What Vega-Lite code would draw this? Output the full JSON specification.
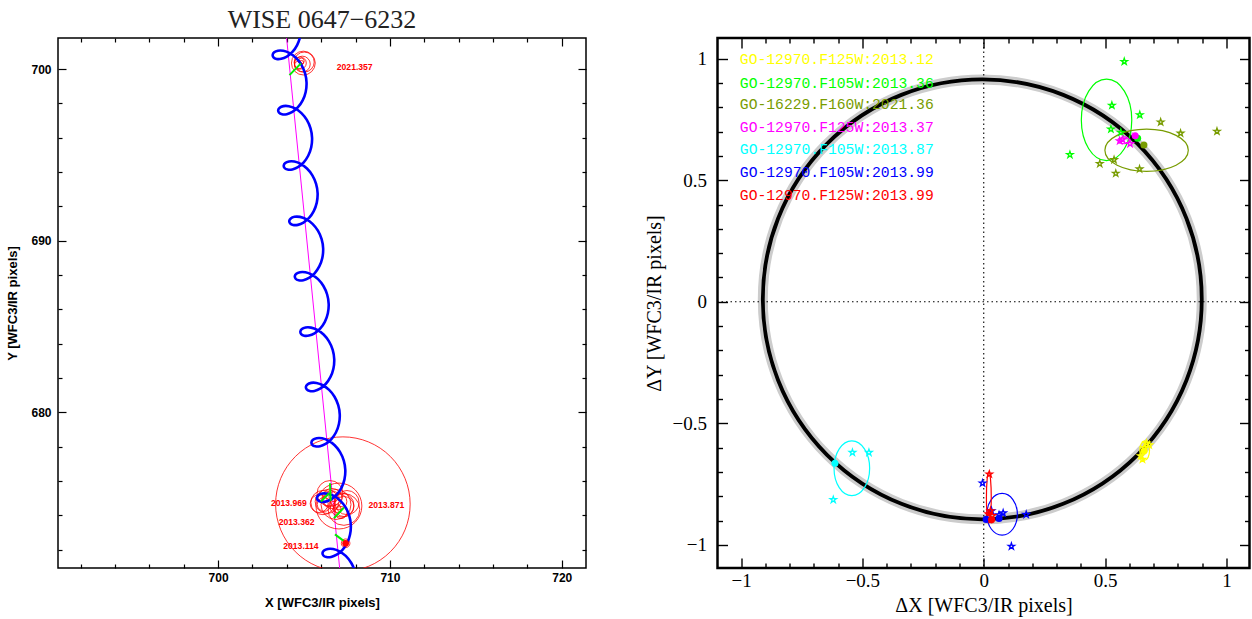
{
  "$schema": "https://vega.github.io/schema/vega-lite/v6.json",
  "background": "white",
  "padding": {"left": 6, "top": 6, "right": 0, "bottom": 0},
  "bounds": "flush",
  "spacing": 131.5,
  "resolve": {"scale": {"size": "independent", "color": "independent", "shape": "independent"}},
  "config": {
    "view": {"stroke": "black"},
    "axis": {"grid": false, "domain": false, "ticks": true, "labelOverlap": false, "labelFlush": false, "tickColor": "black", "tickOpacity": 1, "zindex": 1}
  },
  "hconcat": [
    {
      "width": 528,
      "height": 530,
      "view": {"stroke": "black", "strokeWidth": 1.5},
      "title": {"text": "WISE 0647−6232", "font": "Liberation Serif", "fontSize": 26, "fontWeight": "normal", "color": "#222222", "frame": "group", "anchor": "middle", "baseline": "alphabetic", "offset": -17},
      "resolve": {"axis": {"x": "independent", "y": "independent"}},
      "layer": [
        {
          "data": {"values": [{"x": 707.266, "y": 669}, {"x": 703.866, "y": 703}]},
          "mark": {"type": "line", "color": "#ff00ff", "strokeWidth": 1, "clip": true},
          "encoding": {
            "x": {"field": "x", "type": "quantitative", "scale": {"domain": [690.68, 721.41], "nice": false, "zero": false},
              "axis": {"orient": "top", "values": [700, 710, 720], "labels": false, "title": null, "tickWidth": 1.2, "tickSize": 8, "offset": -8}},
            "y": {"field": "y", "type": "quantitative", "scale": {"domain": [670.94, 701.81], "nice": false, "zero": false},
              "axis": {"orient": "right", "values": [680, 690, 700], "labels": false, "title": null, "tickWidth": 1.2, "tickSize": 8, "offset": -8}}
          }
        },
        {
          "data": {"values": [
            {"x": 707.26, "y": 674.66, "r": 3.9},
            {"x": 707.03, "y": 674.55, "r": 1.33},
            {"x": 706.34, "y": 674.81, "r": 0.69},
            {"x": 706.63, "y": 674.99, "r": 0.58},
            {"x": 706.86, "y": 674.64, "r": 0.87},
            {"x": 707.03, "y": 674.81, "r": 0.46},
            {"x": 707.32, "y": 674.52, "r": 0.58},
            {"x": 706.17, "y": 674.64, "r": 0.4},
            {"x": 707.15, "y": 674.17, "r": 0.35},
            {"x": 706.74, "y": 675.1, "r": 0.29},
            {"x": 706.51, "y": 675.28, "r": 0.75},
            {"x": 707.32, "y": 674.35, "r": 0.92},
            {"x": 705.88, "y": 674.69, "r": 0.52},
            {"x": 706.92, "y": 674.4, "r": 0.23},
            {"x": 706.45, "y": 674.9, "r": 0.35},
            {"x": 707.5, "y": 674.75, "r": 0.7},
            {"x": 706.1, "y": 674.75, "r": 0.7},
            {"x": 707.2, "y": 674.6, "r": 0.7},
            {"x": 707.42, "y": 672.38, "r": 0.25},
            {"x": 704.96, "y": 700.35, "r": 0.69},
            {"x": 704.9, "y": 700.29, "r": 0.46},
            {"x": 704.78, "y": 700.35, "r": 0.35},
            {"x": 704.67, "y": 700.23, "r": 0.23},
            {"x": 704.84, "y": 700.47, "r": 0.17},
            {"x": 705.01, "y": 700.41, "r": 0.58},
            {"x": 704.85, "y": 700.38, "r": 0.12}
          ]},
          "mark": {"type": "point", "shape": "circle", "filled": false, "color": "#ff0000", "strokeWidth": 0.8, "opacity": 1, "clip": true},
          "encoding": {
            "x": {"field": "x", "type": "quantitative",
              "axis": {"orient": "top", "values": [692,694,696,698,702,704,706,708,712,714,716,718], "labels": false, "title": null, "tickWidth": 1.2, "tickSize": 4, "offset": -4}},
            "y": {"field": "y", "type": "quantitative",
              "axis": {"orient": "right", "values": [672,674,676,678,682,684,686,688,692,694,696,698], "labels": false, "title": null, "tickWidth": 1.2, "tickSize": 4, "offset": -4}},
            "size": {"field": "r", "type": "quantitative", "scale": {"type": "pow", "exponent": 2, "domain": [0, 1], "range": [0, 1190]}, "legend": null}
          }
        },
        {
          "data": {"values": [
            {"i":0,"x":708.046,"y":670.202},{"i":1,"x":707.957,"y":670.750},{"i":2,"x":707.741,"y":671.245},{"i":3,"x":707.427,"y":671.643},
            {"i":4,"x":707.061,"y":671.913},{"i":5,"x":706.694,"y":672.046},{"i":6,"x":706.381,"y":672.051},{"i":7,"x":706.164,"y":671.959},
            {"i":8,"x":706.075,"y":671.814},{"i":9,"x":706.124,"y":671.669},{"i":10,"x":706.300,"y":671.577},{"i":11,"x":706.573,"y":671.582},
            {"i":12,"x":706.900,"y":671.715},{"i":13,"x":707.226,"y":671.985},{"i":14,"x":707.499,"y":672.383},{"i":15,"x":707.675,"y":672.878},
            {"i":16,"x":707.724,"y":673.426},{"i":17,"x":707.635,"y":673.974},{"i":18,"x":707.419,"y":674.469},{"i":19,"x":707.105,"y":674.867},
            {"i":20,"x":706.738,"y":675.137},{"i":21,"x":706.372,"y":675.270},{"i":22,"x":706.058,"y":675.275},{"i":23,"x":705.842,"y":675.183},
            {"i":24,"x":705.753,"y":675.038},{"i":25,"x":705.802,"y":674.893},{"i":26,"x":705.978,"y":674.801},{"i":27,"x":706.251,"y":674.806},
            {"i":28,"x":706.577,"y":674.939},{"i":29,"x":706.903,"y":675.209},{"i":30,"x":707.177,"y":675.607},{"i":31,"x":707.353,"y":676.102},
            {"i":32,"x":707.402,"y":676.650},{"i":33,"x":707.313,"y":677.198},{"i":34,"x":707.096,"y":677.693},{"i":35,"x":706.782,"y":678.091},
            {"i":36,"x":706.416,"y":678.361},{"i":37,"x":706.050,"y":678.494},{"i":38,"x":705.736,"y":678.499},{"i":39,"x":705.519,"y":678.407},
            {"i":40,"x":705.430,"y":678.262},{"i":41,"x":705.479,"y":678.117},{"i":42,"x":705.655,"y":678.025},{"i":43,"x":705.929,"y":678.030},
            {"i":44,"x":706.255,"y":678.163},{"i":45,"x":706.581,"y":678.433},{"i":46,"x":706.854,"y":678.831},{"i":47,"x":707.030,"y":679.326},
            {"i":48,"x":707.079,"y":679.874},{"i":49,"x":706.990,"y":680.422},{"i":50,"x":706.774,"y":680.917},{"i":51,"x":706.460,"y":681.315},
            {"i":52,"x":706.094,"y":681.585},{"i":53,"x":705.727,"y":681.718},{"i":54,"x":705.413,"y":681.723},{"i":55,"x":705.197,"y":681.631},
            {"i":56,"x":705.108,"y":681.486},{"i":57,"x":705.157,"y":681.341},{"i":58,"x":705.333,"y":681.249},{"i":59,"x":705.606,"y":681.254},
            {"i":60,"x":705.932,"y":681.387},{"i":61,"x":706.259,"y":681.657},{"i":62,"x":706.532,"y":682.055},{"i":63,"x":706.708,"y":682.550},
            {"i":64,"x":706.757,"y":683.098},{"i":65,"x":706.668,"y":683.646},{"i":66,"x":706.451,"y":684.141},{"i":67,"x":706.138,"y":684.539},
            {"i":68,"x":705.771,"y":684.809},{"i":69,"x":705.405,"y":684.942},{"i":70,"x":705.091,"y":684.947},{"i":71,"x":704.875,"y":684.855},
            {"i":72,"x":704.786,"y":684.710},{"i":73,"x":704.834,"y":684.565},{"i":74,"x":705.010,"y":684.473},{"i":75,"x":705.284,"y":684.478},
            {"i":76,"x":705.610,"y":684.611},{"i":77,"x":705.936,"y":684.881},{"i":78,"x":706.210,"y":685.279},{"i":79,"x":706.386,"y":685.774},
            {"i":80,"x":706.434,"y":686.322},{"i":81,"x":706.345,"y":686.870},{"i":82,"x":706.129,"y":687.365},{"i":83,"x":705.815,"y":687.763},
            {"i":84,"x":705.449,"y":688.033},{"i":85,"x":705.082,"y":688.166},{"i":86,"x":704.769,"y":688.171},{"i":87,"x":704.552,"y":688.079},
            {"i":88,"x":704.463,"y":687.934},{"i":89,"x":704.512,"y":687.789},{"i":90,"x":704.688,"y":687.697},{"i":91,"x":704.961,"y":687.702},
            {"i":92,"x":705.288,"y":687.835},{"i":93,"x":705.614,"y":688.105},{"i":94,"x":705.887,"y":688.503},{"i":95,"x":706.063,"y":688.998},
            {"i":96,"x":706.112,"y":689.546},{"i":97,"x":706.023,"y":690.094},{"i":98,"x":705.807,"y":690.589},{"i":99,"x":705.493,"y":690.987},
            {"i":100,"x":705.126,"y":691.257},{"i":101,"x":704.760,"y":691.390},{"i":102,"x":704.446,"y":691.395},{"i":103,"x":704.230,"y":691.303},
            {"i":104,"x":704.141,"y":691.158},{"i":105,"x":704.190,"y":691.013},{"i":106,"x":704.366,"y":690.921},{"i":107,"x":704.639,"y":690.926},
            {"i":108,"x":704.965,"y":691.059},{"i":109,"x":705.291,"y":691.329},{"i":110,"x":705.565,"y":691.727},{"i":111,"x":705.741,"y":692.222},
            {"i":112,"x":705.790,"y":692.770},{"i":113,"x":705.701,"y":693.318},{"i":114,"x":705.484,"y":693.813},{"i":115,"x":705.170,"y":694.211},
            {"i":116,"x":704.804,"y":694.481},{"i":117,"x":704.438,"y":694.614},{"i":118,"x":704.124,"y":694.619},{"i":119,"x":703.907,"y":694.527},
            {"i":120,"x":703.818,"y":694.382},{"i":121,"x":703.867,"y":694.237},{"i":122,"x":704.043,"y":694.145},{"i":123,"x":704.317,"y":694.150},
            {"i":124,"x":704.643,"y":694.283},{"i":125,"x":704.969,"y":694.553},{"i":126,"x":705.242,"y":694.951},{"i":127,"x":705.418,"y":695.446},
            {"i":128,"x":705.467,"y":695.994},{"i":129,"x":705.378,"y":696.542},{"i":130,"x":705.162,"y":697.037},{"i":131,"x":704.848,"y":697.435},
            {"i":132,"x":704.482,"y":697.705},{"i":133,"x":704.115,"y":697.838},{"i":134,"x":703.801,"y":697.843},{"i":135,"x":703.585,"y":697.751},
            {"i":136,"x":703.496,"y":697.606},{"i":137,"x":703.545,"y":697.461},{"i":138,"x":703.721,"y":697.369},{"i":139,"x":703.994,"y":697.374},
            {"i":140,"x":704.320,"y":697.507},{"i":141,"x":704.646,"y":697.777},{"i":142,"x":704.920,"y":698.175},{"i":143,"x":705.096,"y":698.670},
            {"i":144,"x":705.145,"y":699.218},{"i":145,"x":705.056,"y":699.766},{"i":146,"x":704.839,"y":700.261},{"i":147,"x":704.526,"y":700.659},
            {"i":148,"x":704.159,"y":700.929},{"i":149,"x":703.793,"y":701.062},{"i":150,"x":703.479,"y":701.067},{"i":151,"x":703.263,"y":700.975},
            {"i":152,"x":703.174,"y":700.830},{"i":153,"x":703.222,"y":700.685},{"i":154,"x":703.398,"y":700.593},{"i":155,"x":703.672,"y":700.598},
            {"i":156,"x":703.998,"y":700.731},{"i":157,"x":704.324,"y":701.001},{"i":158,"x":704.598,"y":701.399},{"i":159,"x":704.774,"y":701.894},
            {"i":160,"x":704.822,"y":702.442},{"i":161,"x":704.733,"y":702.990}
          ]},
          "mark": {"type": "line", "color": "#0000ff", "strokeWidth": 2.6, "interpolate": "catmull-rom", "clip": true},
          "encoding": {
            "order": {"field": "i", "type": "quantitative"},
            "x": {"field": "x", "type": "quantitative",
              "axis": {"orient": "bottom", "values": [700, 710, 720], "format": "d", "tickWidth": 1.2, "tickSize": 8, "offset": -8, "labelFont": "Liberation Sans", "labelFontWeight": "bold", "labelFontSize": 12, "labelColor": "black", "labelPadding": 4, "title": "X [WFC3/IR pixels]", "titleFont": "Liberation Sans", "titleFontWeight": "bold", "titleFontSize": 13, "titleColor": "black", "titlePadding": 13}},
            "y": {"field": "y", "type": "quantitative",
              "axis": {"orient": "left", "values": [680, 690, 700], "format": "d", "tickWidth": 1.2, "tickSize": 8, "offset": -8, "labelFont": "Liberation Sans", "labelFontWeight": "bold", "labelFontSize": 12, "labelColor": "black", "labelPadding": 7, "title": "Y [WFC3/IR pixels]", "titleFont": "Liberation Sans", "titleFontWeight": "bold", "titleFontSize": 13, "titleColor": "black", "titlePadding": 11}}
          }
        },
        {
          "data": {"values": [
            {"x": 706.80, "y": 672.90, "x2": 707.42, "y2": 672.43},
            {"x": 706.74, "y": 673.84, "x2": 707.32, "y2": 674.46},
            {"x": 706.51, "y": 675.88, "x2": 706.55, "y2": 674.85},
            {"x": 705.98, "y": 674.81, "x2": 706.46, "y2": 675.29},
            {"x": 704.15, "y": 699.65, "x2": 704.82, "y2": 700.33}
          ]},
          "mark": {"type": "rule", "color": "#00ee00", "strokeWidth": 2},
          "encoding": {
            "x": {"field": "x", "type": "quantitative",
              "axis": {"orient": "bottom", "values": [692,694,696,698,702,704,706,708,712,714,716,718], "labels": false, "title": null, "tickWidth": 1.2, "tickSize": 4, "offset": -4}},
            "y": {"field": "y", "type": "quantitative",
              "axis": {"orient": "left", "values": [672,674,676,678,682,684,686,688,692,694,696,698], "labels": false, "title": null, "tickWidth": 1.2, "tickSize": 4, "offset": -4}},
            "x2": {"field": "x2"},
            "y2": {"field": "y2"}
          }
        },
        {
          "data": {"values": [{"x": 707.42, "y": 672.38}]},
          "mark": {"type": "point", "shape": "circle", "filled": true, "color": "#ff0000", "size": 45, "opacity": 1},
          "encoding": {
            "x": {"field": "x", "type": "quantitative", "axis": null},
            "y": {"field": "y", "type": "quantitative", "axis": null}
          }
        },
        {
          "data": {"values": [
            {"x": 707.95, "y": 700.12, "label": "2021.357"},
            {"x": 704.12, "y": 674.75, "label": "2013.969"},
            {"x": 709.79, "y": 674.61, "label": "2013.871"},
            {"x": 704.57, "y": 673.64, "label": "2013.362"},
            {"x": 704.82, "y": 672.23, "label": "2013.114"}
          ]},
          "mark": {"type": "text", "font": "Liberation Sans", "fontWeight": "bold", "fontSize": 8.6, "color": "#ff0000", "align": "center", "baseline": "middle"},
          "encoding": {
            "x": {"field": "x", "type": "quantitative", "axis": null},
            "y": {"field": "y", "type": "quantitative", "axis": null},
            "text": {"field": "label"}
          }
        }
      ]
    },
    {
      "width": 532,
      "height": 530,
      "view": {"stroke": "black", "strokeWidth": 2.5},
      "resolve": {"axis": {"x": "independent", "y": "independent"}},
      "layer": [
        {
          "data": {"values": [{"x": -0.006, "y": 0.01, "a": 0.905}]},
          "mark": {"type": "point", "shape": "circle", "filled": false, "color": "#cccccc", "strokeWidth": 10, "opacity": 1},
          "encoding": {
            "x": {"field": "x", "type": "quantitative", "scale": {"domain": [-1.097, 1.095], "nice": false, "zero": false},
              "axis": {"orient": "bottom", "values": [-1, -0.5, 0, 0.5, 1], "format": "~g", "tickWidth": 1.4, "tickSize": 10, "offset": -10, "labelFont": "Liberation Serif", "labelFontSize": 19, "labelColor": "black", "labelPadding": 3, "title": "ΔX [WFC3/IR pixels]", "titleFont": "Liberation Serif", "titleFontSize": 20, "titleFontWeight": "normal", "titleColor": "black", "titlePadding": 5}},
            "y": {"field": "y", "type": "quantitative", "scale": {"domain": [-1.095, 1.085], "nice": false, "zero": false},
              "axis": {"orient": "left", "values": [-1, -0.5, 0, 0.5, 1], "format": "~g", "tickWidth": 1.4, "tickSize": 10, "offset": -10, "labelFont": "Liberation Serif", "labelFontSize": 19, "labelColor": "black", "labelPadding": 11, "title": "ΔY [WFC3/IR pixels]", "titleFont": "Liberation Serif", "titleFontSize": 20, "titleFontWeight": "normal", "titleColor": "black", "titlePadding": 8}},
            "size": {"field": "a", "type": "quantitative", "scale": {"type": "pow", "exponent": 2, "domain": [0, 1], "range": [0, 235225]}, "legend": null}
          }
        },
        {
          "data": {"values": [{"v": 0}]},
          "mark": {"type": "rule", "strokeDash": [1.5, 3], "color": "black", "strokeWidth": 1.1},
          "encoding": {"x": {"field": "v", "type": "quantitative", "axis": null}}
        },
        {
          "data": {"values": [{"v": 0}]},
          "mark": {"type": "rule", "strokeDash": [1.5, 3], "color": "black", "strokeWidth": 1.1},
          "encoding": {"y": {"field": "v", "type": "quantitative", "axis": null}}
        },
        {
          "data": {"values": [{"x": -0.006, "y": 0.01, "a": 0.905}]},
          "mark": {"type": "point", "shape": "circle", "filled": false, "color": "black", "strokeWidth": 3.8, "opacity": 1},
          "encoding": {
            "x": {"field": "x", "type": "quantitative",
              "axis": {"orient": "top", "values": [-1, -0.5, 0, 0.5, 1], "labels": false, "title": null, "tickWidth": 1.4, "tickSize": 10, "offset": -10}},
            "y": {"field": "y", "type": "quantitative",
              "axis": {"orient": "right", "values": [-1, -0.5, 0, 0.5, 1], "labels": false, "title": null, "tickWidth": 1.4, "tickSize": 10, "offset": -10}},
            "size": {"field": "a", "type": "quantitative", "legend": null}
          }
        },
        {
          "data": {"values": [
            {"x": 0.663, "y": -0.612, "a": 0.04, "series": "GO-12970.F125W:2013.12"},
            {"x": 0.506, "y": 0.748, "a": 0.168, "series": "GO-12970.F105W:2013.36"},
            {"x": 0.671, "y": 0.623, "a": 0.172, "series": "GO-16229.F160W:2021.36"},
            {"x": 0.579, "y": 0.664, "a": 0.02, "series": "GO-12970.F125W:2013.37"},
            {"x": -0.5435, "y": -0.685, "a": 0.113, "series": "GO-12970.F105W:2013.87"},
            {"x": 0.0756, "y": -0.874, "a": 0.086, "series": "GO-12970.F105W:2013.99"},
            {"x": 0.021, "y": -0.805, "a": 0.105, "series": "GO-12970.F125W:2013.99"}
          ]},
          "mark": {"type": "point", "filled": false, "strokeWidth": 1.2, "opacity": 1},
          "encoding": {
            "x": {"field": "x", "type": "quantitative",
              "axis": {"orient": "top", "values": [-0.9,-0.8,-0.7,-0.6,-0.4,-0.3,-0.2,-0.1,0.1,0.2,0.3,0.4,0.6,0.7,0.8,0.9], "labels": false, "title": null, "tickWidth": 1.4, "tickSize": 5, "offset": -5}},
            "y": {"field": "y", "type": "quantitative",
              "axis": {"orient": "right", "values": [-0.9,-0.8,-0.7,-0.6,-0.4,-0.3,-0.2,-0.1,0.1,0.2,0.3,0.4,0.6,0.7,0.8,0.9], "labels": false, "title": null, "tickWidth": 1.4, "tickSize": 5, "offset": -5}},
            "size": {"field": "a", "type": "quantitative", "legend": null},
            "shape": {"field": "series", "type": "nominal", "legend": null,
              "scale": {"domain": ["GO-12970.F125W:2013.12", "GO-12970.F105W:2013.36", "GO-16229.F160W:2021.36", "GO-12970.F125W:2013.37", "GO-12970.F105W:2013.87", "GO-12970.F105W:2013.99", "GO-12970.F125W:2013.99"],
                "range": [
                  "M0,-1C0.276,-1,0.5,-0.552,0.5,0C0.5,0.552,0.276,1,0,1C-0.276,1,-0.5,0.552,-0.5,0C-0.5,-0.552,-0.276,-1,0,-1Z",
                  "M0,-1C0.342,-1,0.619,-0.552,0.619,0C0.619,0.552,0.342,1,0,1C-0.342,1,-0.619,0.552,-0.619,0C-0.619,-0.552,-0.342,-1,0,-1Z",
                  "M0,-0.506C0.552,-0.506,1,-0.28,1,0C1,0.28,0.552,0.506,0,0.506C-0.552,0.506,-1,0.28,-1,0C-1,-0.28,-0.552,-0.506,0,-0.506Z",
                  "M0,-0.7C0.552,-0.7,1,-0.387,1,0C1,0.387,0.552,0.7,0,0.7C-0.552,0.7,-1,0.387,-1,0C-1,-0.387,-0.552,-0.7,0,-0.7Z",
                  "M0,-1C0.359,-1,0.65,-0.552,0.65,0C0.65,0.552,0.359,1,0,1C-0.359,1,-0.65,0.552,-0.65,0C-0.65,-0.552,-0.359,-1,0,-1Z",
                  "M0,-1C0.405,-1,0.733,-0.552,0.733,0C0.733,0.552,0.405,1,0,1C-0.405,1,-0.733,0.552,-0.733,0C-0.733,-0.552,-0.405,-1,0,-1Z",
                  "M0,-1C0.0525,-1,0.095,-0.552,0.095,0C0.095,0.552,0.0525,1,0,1C-0.0525,1,-0.095,0.552,-0.095,0C-0.095,-0.552,-0.0525,-1,0,-1Z"
                ]}},
            "color": {"field": "series", "type": "nominal", "legend": null,
              "scale": {"domain": ["GO-12970.F125W:2013.12", "GO-12970.F105W:2013.36", "GO-16229.F160W:2021.36", "GO-12970.F125W:2013.37", "GO-12970.F105W:2013.87", "GO-12970.F105W:2013.99", "GO-12970.F125W:2013.99"],
                "range": ["#ffff00", "#00ff00", "#789c00", "#ff00ff", "#00ffff", "#0000ff", "#ff0000"]}}
          }
        },
        {
          "data": {"values": [
            {"x": 0.579, "y": 0.988, "series": "GO-12970.F105W:2013.36"},
            {"x": 0.528, "y": 0.808, "series": "GO-12970.F105W:2013.36"},
            {"x": 0.643, "y": 0.769, "series": "GO-12970.F105W:2013.36"},
            {"x": 0.524, "y": 0.710, "series": "GO-12970.F105W:2013.36"},
            {"x": 0.565, "y": 0.697, "series": "GO-12970.F105W:2013.36"},
            {"x": 0.355, "y": 0.605, "series": "GO-12970.F105W:2013.36"},
            {"x": 0.729, "y": 0.739, "series": "GO-16229.F160W:2021.36"},
            {"x": 0.811, "y": 0.693, "series": "GO-16229.F160W:2021.36"},
            {"x": 0.961, "y": 0.701, "series": "GO-16229.F160W:2021.36"},
            {"x": 0.537, "y": 0.584, "series": "GO-16229.F160W:2021.36"},
            {"x": 0.478, "y": 0.568, "series": "GO-16229.F160W:2021.36"},
            {"x": 0.544, "y": 0.528, "series": "GO-16229.F160W:2021.36"},
            {"x": 0.642, "y": 0.546, "series": "GO-16229.F160W:2021.36"},
            {"x": 0.572, "y": 0.667, "series": "GO-12970.F125W:2013.37"},
            {"x": 0.603, "y": 0.650, "series": "GO-12970.F125W:2013.37"},
            {"x": 0.560, "y": 0.662, "series": "GO-12970.F125W:2013.37"},
            {"x": -0.541, "y": -0.620, "series": "GO-12970.F105W:2013.87"},
            {"x": -0.473, "y": -0.620, "series": "GO-12970.F105W:2013.87"},
            {"x": -0.620, "y": -0.814, "series": "GO-12970.F105W:2013.87"},
            {"x": -0.005, "y": -0.746, "series": "GO-12970.F105W:2013.99"},
            {"x": 0.175, "y": -0.875, "series": "GO-12970.F105W:2013.99"},
            {"x": 0.114, "y": -1.006, "series": "GO-12970.F105W:2013.99"},
            {"x": 0.080, "y": -0.869, "series": "GO-12970.F105W:2013.99"},
            {"x": 0.063, "y": -0.877, "series": "GO-12970.F105W:2013.99"},
            {"x": 0.032, "y": -0.860, "series": "GO-12970.F105W:2013.99"},
            {"x": 0.023, "y": -0.709, "series": "GO-12970.F125W:2013.99"},
            {"x": 0.019, "y": -0.873, "series": "GO-12970.F125W:2013.99"},
            {"x": 0.035, "y": -0.880, "series": "GO-12970.F125W:2013.99"},
            {"x": 0.028, "y": -0.860, "series": "GO-12970.F125W:2013.99"},
            {"x": 0.671, "y": -0.582, "series": "GO-12970.F125W:2013.12"},
            {"x": 0.682, "y": -0.589, "series": "GO-12970.F125W:2013.12"},
            {"x": 0.647, "y": -0.634, "series": "GO-12970.F125W:2013.12"},
            {"x": 0.654, "y": -0.648, "series": "GO-12970.F125W:2013.12"},
            {"x": 0.661, "y": -0.600, "series": "GO-12970.F125W:2013.12"}
          ]},
          "mark": {"type": "point", "filled": false, "size": 46, "strokeWidth": 1.3, "opacity": 1,
            "shape": "M0,-1L0.2245,-0.309L0.951,-0.309L0.363,0.118L0.588,0.809L0,0.382L-0.588,0.809L-0.363,0.118L-0.951,-0.309L-0.2245,-0.309Z"},
          "encoding": {
            "x": {"field": "x", "type": "quantitative",
              "axis": {"orient": "bottom", "values": [-0.9,-0.8,-0.7,-0.6,-0.4,-0.3,-0.2,-0.1,0.1,0.2,0.3,0.4,0.6,0.7,0.8,0.9], "labels": false, "title": null, "tickWidth": 1.4, "tickSize": 5, "offset": -5}},
            "y": {"field": "y", "type": "quantitative",
              "axis": {"orient": "left", "values": [-0.9,-0.8,-0.7,-0.6,-0.4,-0.3,-0.2,-0.1,0.1,0.2,0.3,0.4,0.6,0.7,0.8,0.9], "labels": false, "title": null, "tickWidth": 1.4, "tickSize": 5, "offset": -5}},
            "color": {"field": "series", "type": "nominal", "legend": null}
          }
        },
        {
          "data": {"values": [
            {"x": 0.661, "y": -0.613, "series": "GO-12970.F125W:2013.12"},
            {"x": 0.634, "y": 0.673, "series": "GO-12970.F105W:2013.36"},
            {"x": 0.660, "y": 0.645, "series": "GO-16229.F160W:2021.36"},
            {"x": 0.624, "y": 0.683, "series": "GO-12970.F125W:2013.37"},
            {"x": -0.613, "y": -0.664, "series": "GO-12970.F105W:2013.87"},
            {"x": 0.063, "y": -0.891, "series": "GO-12970.F105W:2013.99"},
            {"x": 0.010, "y": -0.895, "series": "GO-12970.F105W:2013.99"},
            {"x": 0.032, "y": -0.897, "series": "GO-12970.F125W:2013.99"}
          ]},
          "mark": {"type": "point", "shape": "circle", "filled": true, "size": 50, "opacity": 1},
          "encoding": {
            "x": {"field": "x", "type": "quantitative", "axis": null},
            "y": {"field": "y", "type": "quantitative", "axis": null},
            "color": {"field": "series", "type": "nominal", "legend": null}
          }
        },
        {
          "data": {"values": [
            {"x": -1.005, "y": 0.993, "series": "GO-12970.F125W:2013.12"},
            {"x": -1.005, "y": 0.897, "series": "GO-12970.F105W:2013.36"},
            {"x": -1.005, "y": 0.808, "series": "GO-16229.F160W:2021.36"},
            {"x": -1.005, "y": 0.715, "series": "GO-12970.F125W:2013.37"},
            {"x": -1.005, "y": 0.623, "series": "GO-12970.F105W:2013.87"},
            {"x": -1.005, "y": 0.530, "series": "GO-12970.F105W:2013.99"},
            {"x": -1.005, "y": 0.437, "series": "GO-12970.F125W:2013.99"}
          ]},
          "mark": {"type": "text", "font": "Liberation Mono", "fontSize": 14.7, "align": "left", "baseline": "middle"},
          "encoding": {
            "x": {"field": "x", "type": "quantitative", "axis": null},
            "y": {"field": "y", "type": "quantitative", "axis": null},
            "text": {"field": "series"},
            "color": {"field": "series", "type": "nominal", "legend": null}
          }
        }
      ]
    }
  ]
}
